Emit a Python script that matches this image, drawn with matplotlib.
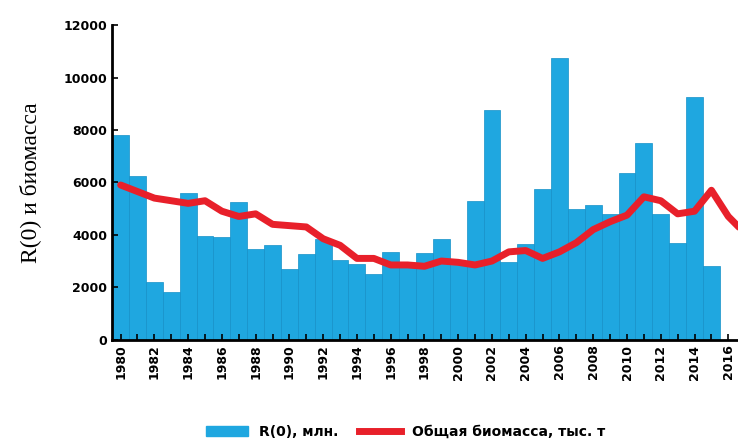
import matplotlib.pyplot as plt
import matplotlib.lines as mlines
import matplotlib.patches as mpatches

years = list(range(1980, 2016))
r0 = [7800, 6250, 2200, 1800, 5600, 3950, 3900, 5250, 3450, 3600, 2700, 3250,
      3850, 3050, 2900, 2500, 3350, 2850, 3300, 3850, 2850, 5300, 8750, 2950,
      3650, 5750, 10750, 5000, 5150, 4800, 6350, 7500, 4800, 3700, 9250, 2800]
bio_years = list(range(1980, 2018))
biomass = [5900, 5650, 5400, 5300, 5200, 5300, 4900, 4700, 4800, 4400, 4350, 4300,
           3850, 3600, 3100, 3100, 2850, 2850, 2800, 3000, 2950, 2850, 3000, 3350,
           3400, 3100, 3350, 3700, 4200, 4500, 4750, 5450, 5300, 4800, 4900, 5700,
           4700, 4050]
ticks = list(range(1980, 2017, 2))

fig = plt.figure(figsize=(7.38, 4.40), dpi=100)
ax = fig.add_axes([0.152, 0.228, 0.86, 0.715])
ax.bar(years, r0, width=1.0, color='#1fa7e0', edgecolor='#1590c8', linewidth=0.5)
ax.plot(bio_years, biomass, color='#e8202a', linewidth=5, solid_capstyle='round')
ax.set_xlim(1979.5, 2017.1)
ax.set_ylim(0, 12000)
ax.set_yticks(range(0, 12001, 2000))
ax.set_xticks(ticks)
ax.set_xticks(years + [2016], minor=True)
ax.tick_params(axis='x', which='both', direction='in', length=4, width=1.2)
ax.tick_params(axis='y', direction='in', length=4, width=1.2)
ax.set_xticklabels([str(t) for t in ticks], rotation=90, fontweight='bold', fontsize=9)
for lb in ax.get_yticklabels():
    lb.set_fontweight('bold')
    lb.set_fontsize(9)
for s in ['top', 'right']:
    ax.spines[s].set_visible(False)
ax.spines['left'].set_linewidth(2)
ax.spines['bottom'].set_linewidth(2)
ax.set_ylabel('R(0) и биомасса', family='Liberation Serif', fontsize=17, labelpad=16)

h1 = mpatches.Patch(color='#1fa7e0', label='R(0), млн.')
h2 = mlines.Line2D([], [], color='#e8202a', linewidth=5, label='Общая биомасса, тыс. т')
fig.legend(handles=[h1, h2], loc='lower center', ncol=2, frameon=False,
           bbox_to_anchor=(0.55, -0.025), prop={'weight': 'bold', 'size': 10},
           handlelength=3, columnspacing=1.5)
fig.savefig('out.png')
